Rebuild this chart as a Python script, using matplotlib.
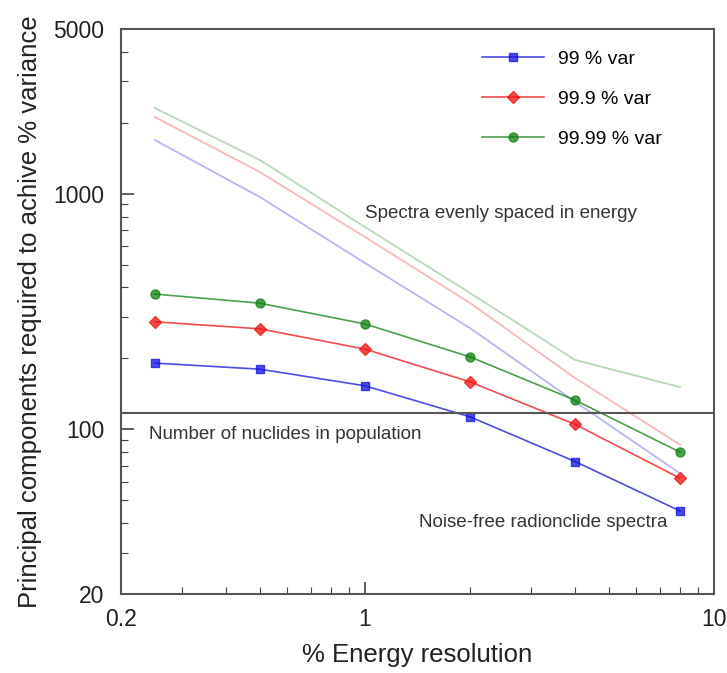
import numpy as np
import matplotlib
matplotlib.use('Agg')
from matplotlib import pyplot as plt
from matplotlib.ticker import FixedLocator, NullFormatter, LogLocator

plt.rcParams['font.family'] = ['Liberation Sans', 'DejaVu Sans']

# Energieauflösung [%]
aufloesung = [0.25, 0.5, 1, 2, 4, 8]

# Noise-free radionuclide spectra
pc_99 = [191, 180, 153, 113, 73, 45]
pc_999 = [286, 267, 219, 159, 105, 62]
pc_9999 = [375, 343, 280, 203, 133, 80]

# Spectra evenly spaced in energy (helle Linien)
gleich_99 = [1690, 968, 508, 269, 131, 65]
gleich_999 = [2117, 1236, 655, 344, 165, 86]
gleich_9999 = [2311, 1390, 722, 379, 197, 151]

anzahl_nuklide = 117

blau, rot, gruen = '#1010e0', '#f01010', '#108010'

fig = plt.figure(figsize=(7.27, 6.73), dpi=100)
ax = fig.add_axes([0.1664, 0.1174, 0.8156, 0.8395])
ax.set_xscale('log')
ax.set_yscale('log')

# helle Linien
ax.plot(aufloesung, gleich_99, color=blau, alpha=0.3, linewidth=1.3)
ax.plot(aufloesung, gleich_999, color=rot, alpha=0.3, linewidth=1.3)
ax.plot(aufloesung, gleich_9999, color=gruen, alpha=0.3, linewidth=1.3)

ax.plot(aufloesung, pc_99, color=blau, alpha=0.75, linewidth=1.2, marker='s', markersize=5.5,
        markerfacecolor=blau, markeredgecolor=blau, label='99 % var')
ax.plot(aufloesung, pc_999, color=rot, alpha=0.75, linewidth=1.2, marker='D', markersize=6,
        markerfacecolor=rot, markeredgecolor=rot, label='99.9 % var')
ax.plot(aufloesung, pc_9999, color=gruen, alpha=0.75, linewidth=1.2, marker='o', markersize=6.5,
        markerfacecolor=gruen, markeredgecolor=gruen, label='99.99 % var')

ax.axhline(anzahl_nuklide, color='#555555', linewidth=1.5)

ax.text(1.0, 820, 'Spectra evenly spaced in energy', fontsize=13.5, color='#333333', va='center')
ax.text(0.2405, 94.6, 'Number of nuclides in population', fontsize=13.5, color='#333333', va='center')
ax.text(1.43, 40.4, 'Noise-free radionclide spectra', fontsize=13.5, color='#333333', va='center')

ax.set_xlim(0.2, 10)
ax.set_ylim(20, 5000)

ax.xaxis.set_major_locator(FixedLocator([0.2, 1, 10]))
ax.set_xticklabels(['0.2', '1', '10'])
ax.xaxis.set_minor_locator(LogLocator(base=10, subs=np.arange(2, 10)))
ax.xaxis.set_minor_formatter(NullFormatter())
ax.yaxis.set_major_locator(FixedLocator([20, 100, 1000, 5000]))
ax.set_yticklabels(['20', '100', '1000', '5000'])
ax.yaxis.set_minor_locator(LogLocator(base=10, subs=np.arange(2, 10)))
ax.yaxis.set_minor_formatter(NullFormatter())

ax.tick_params(which='both', direction='in', top=False, right=False, colors='#444444', labelcolor='#222222')
ax.tick_params(which='major', length=9, width=1.2, labelsize=16.5)
ax.tick_params(axis='x', which='major', pad=10)
ax.tick_params(axis='y', which='major', pad=12)
ax.tick_params(which='minor', length=5, width=0.8)
for s in ax.spines.values():
    s.set_color('#555555')
    s.set_linewidth(1.5)

ax.set_xlabel('% Energy resolution', fontsize=18.5, labelpad=9, color='#222222')
ax.set_ylabel('Principal components required to achive % variance', fontsize=18.5, labelpad=8, color='#222222')

leg = ax.legend(loc='upper left', bbox_to_anchor=(0.609, 0.962), frameon=False, fontsize=14,
                handlelength=3.2, labelspacing=1.15, handletextpad=0.7, borderpad=0, borderaxespad=0)

fig.savefig('out.png', dpi=100)
